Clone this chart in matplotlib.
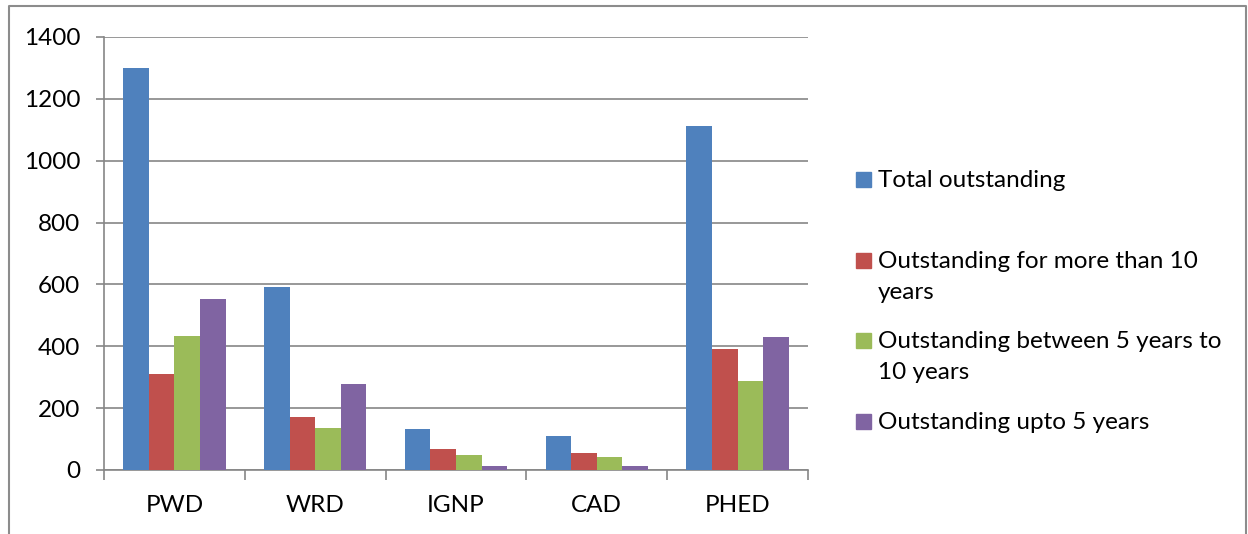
import textwrap
import numpy as np
import matplotlib.pyplot as plt
from matplotlib.patches import Rectangle

plt.rcParams['font.family'] = ['Lato', 'DejaVu Sans']

departments = ['PWD', 'WRD', 'IGNP', 'CAD', 'PHED']
series_names = ['Total outstanding',
                'Outstanding for more than 10 years',
                'Outstanding between 5 years to 10 years',
                'Outstanding upto 5 years']
total = [1300, 590, 132, 111, 1113]
over_10 = [310, 172, 68, 55, 391]
between_5_10 = [433, 137, 48, 42, 288]
upto_5 = [553, 279, 12, 12, 430]
colors = ['#4F81BD', '#C0504D', '#9BBB59', '#8064A2']

values = [total, over_10, between_5_10, upto_5]

fig = plt.figure(figsize=(12.48, 5.34), dpi=100)
fig.set_facecolor('white')
ax = fig.add_axes([0.0833, 0.1199, 0.5641, 0.8109])

grey = '#868686'
fs = 17.5
x = np.arange(len(departments))
w = 1 / 5.5
for i, (vals, c) in enumerate(zip(values, colors)):
    ax.bar(x + (i - 1.5) * w, vals, width=w, color=c, edgecolor='none', zorder=3)

ax.set_xlim(-0.5, len(departments) - 0.5)
ax.set_ylim(0, 1400)
ax.set_yticks(range(0, 1401, 200))
ax.yaxis.grid(True, color=grey, linewidth=1.2, zorder=0)
ax.set_axisbelow(True)

ax.set_xticks(x)
ax.set_xticklabels(departments)
ax.set_xticks(np.arange(-0.5, len(departments)), minor=True)
ax.tick_params(axis='x', which='major', length=0, pad=18, labelsize=fs)
ax.tick_params(axis='x', which='minor', length=7, width=1.2, color=grey, direction='out')
ax.tick_params(axis='y', length=6, width=1.2, color=grey, pad=11, labelsize=fs)

for s in ['top', 'right']:
    ax.spines[s].set_visible(False)
for s in ['left', 'bottom']:
    ax.spines[s].set_color(grey)
    ax.spines[s].set_linewidth(1.2)

# legend laid out like the Excel one: marker beside the first line of each entry
W, H = 1248, 534
marker_top = [172, 253, 333, 414]
line_gap = 31
for name, c, y in zip(series_names, colors, marker_top):
    fig.patches.append(Rectangle((856 / W, 1 - (y + 15) / H), 15 / W, 15 / H,
                                 transform=fig.transFigure, color=c))
    for k, line in enumerate(textwrap.wrap(name, 30)):
        fig.text(878 / W, 1 - (y + 15 + k * line_gap) / H, line,
                 fontsize=fs, va='baseline', ha='left')

# chart border
fig.add_artist(plt.Line2D([9 / W, 9 / W, 1246 / W, 1246 / W], [0, 1 - 6 / H, 1 - 6 / H, 0],
                          transform=fig.transFigure, color='#8c8c8c', linewidth=1.5))

fig.savefig('out.png', dpi=100)
